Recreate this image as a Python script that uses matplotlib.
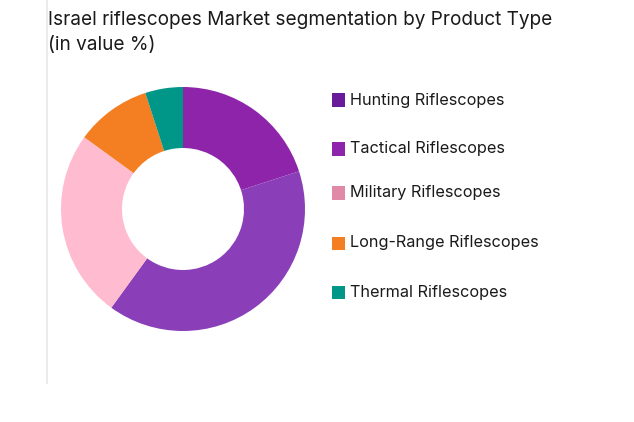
import matplotlib
matplotlib.use("Agg")
import matplotlib.pyplot as plt
import matplotlib.patches as mpatches
from matplotlib.lines import Line2D

plt.rcParams['font.family'] = ['Inter', 'DejaVu Sans']

# data
segments = ["Hunting Riflescopes", "Tactical Riflescopes", "Military Riflescopes",
            "Long-Range Riflescopes", "Thermal Riflescopes"]
shares = [20, 40, 25, 10, 5]
slice_colors = ["#8E24AA", "#8A3FB8", "#FFBBD0", "#F47F22", "#009688"]
legend_colors = ["#6A1B9A", "#8E24AA", "#E08AA8", "#F47F22", "#009688"]
title = "Israel riflescopes Market segmentation by Product Type\n(in value %)"

W, H = 634, 422
fig = plt.figure(figsize=(W / 100, H / 100), dpi=100)

# donut, centre ~(183, 209) px, radius ~122 px
cx, cy, r = 183, 209, 122
ax = fig.add_axes([(cx - r) / W, (H - cy - r) / H, 2 * r / W, 2 * r / H])
ax.pie(shares, colors=slice_colors, startangle=90, counterclock=False,
       radius=1, wedgeprops=dict(width=0.5, linewidth=0))
ax.set_xlim(-1, 1)
ax.set_ylim(-1, 1)
ax.set_aspect("equal")
ax.axis("off")

# thin grey rule on the left
fig.add_artist(Line2D([46.5 / W, 46.5 / W], [1, 1 - 383 / H],
                      transform=fig.transFigure, color="#E6E6EC", lw=1.2))

fig.text(48 / W, 1 - 11 / H, title, ha="left", va="top", fontsize=13.7,
         color="#1a1a1a", linespacing=1.5)

# legend, hand placed rows
row_y = [100, 149, 193, 243, 292]
sq = 13
for name, col, y in zip(segments, legend_colors, row_y):
    fig.add_artist(mpatches.Rectangle((332 / W, (H - y - sq / 2) / H), sq / W, sq / H,
                                      transform=fig.transFigure, color=col, lw=0))
    fig.text(350 / W, (H - y) / H, name, ha="left", va="center", fontsize=11.7,
             color="#1a1a1a")

fig.savefig("out.png", dpi=100)
